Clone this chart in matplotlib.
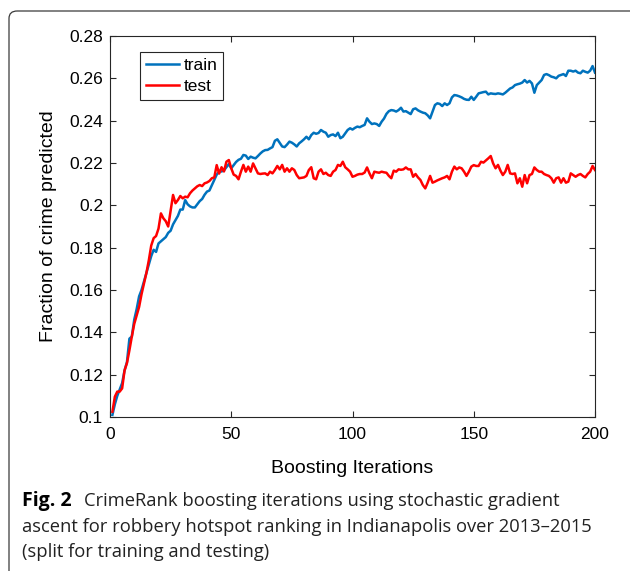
import matplotlib
matplotlib.use("Agg")
import matplotlib.pyplot as plt
from matplotlib.patches import FancyBboxPatch
import numpy as np

iterations = np.arange(1, 201)

train = [
    0.101, 0.106, 0.110, 0.113, 0.116, 0.122, 0.126, 0.137, 0.138, 0.146,
    0.151, 0.157, 0.160, 0.164, 0.168, 0.172, 0.176, 0.179, 0.178, 0.182,
    0.183, 0.184, 0.185, 0.187, 0.188, 0.191, 0.193, 0.195, 0.198, 0.198,
    0.2025, 0.2005, 0.1995, 0.199, 0.199, 0.2005, 0.202, 0.203, 0.205, 0.2065,
    0.207, 0.2095, 0.212, 0.2145, 0.216, 0.216, 0.2165, 0.218, 0.2195, 0.2175,
    0.219, 0.2205, 0.2215, 0.222, 0.2238, 0.2235, 0.2219, 0.223, 0.2225, 0.2222,
    0.2233, 0.2245, 0.2255, 0.2261, 0.2262, 0.2269, 0.2275, 0.2305, 0.2312, 0.2295,
    0.2278, 0.2275, 0.2287, 0.2301, 0.2296, 0.2288, 0.2278, 0.2293, 0.2302, 0.2312,
    0.2324, 0.2312, 0.2332, 0.2343, 0.2338, 0.2342, 0.2356, 0.2348, 0.2343, 0.2324,
    0.2332, 0.2335, 0.2327, 0.2343, 0.2317, 0.2324, 0.234, 0.2356, 0.2364, 0.2358,
    0.2366, 0.2372, 0.2369, 0.2375, 0.238, 0.2411, 0.2395, 0.2384, 0.2387, 0.2384,
    0.2375, 0.2395, 0.241, 0.2432, 0.2445, 0.245, 0.2448, 0.2443, 0.245, 0.2461,
    0.2443, 0.2445, 0.2438, 0.2431, 0.2454, 0.2458, 0.2449, 0.2443, 0.2438, 0.2435,
    0.2425, 0.2411, 0.2443, 0.2474, 0.2482, 0.2479, 0.2469, 0.2482, 0.2474, 0.2482,
    0.251, 0.2521, 0.2519, 0.2515, 0.251, 0.2503, 0.2499, 0.2498, 0.2513, 0.2498,
    0.2513, 0.2529, 0.2532, 0.2535, 0.2537, 0.2524, 0.2529, 0.2527, 0.2526, 0.2529,
    0.2527, 0.2524, 0.2532, 0.2542, 0.2552, 0.2557, 0.2568, 0.2572, 0.2575, 0.258,
    0.2592, 0.258, 0.2588, 0.2576, 0.2532, 0.2568, 0.258, 0.2592, 0.2616, 0.262,
    0.2615, 0.2608, 0.2605, 0.26, 0.2612, 0.2616, 0.262, 0.2611, 0.2636, 0.2636,
    0.2632, 0.2636, 0.2627, 0.2624, 0.2636, 0.2631, 0.2627, 0.2636, 0.2658, 0.2627,
]

test = [
    0.1025, 0.1096, 0.112, 0.112, 0.1135, 0.122, 0.1255, 0.1315, 0.138, 0.144,
    0.148, 0.152, 0.158, 0.163, 0.168, 0.174, 0.181, 0.1845, 0.1855, 0.189,
    0.1962, 0.1939, 0.1925, 0.190, 0.1975, 0.2049, 0.201, 0.2025, 0.2044, 0.2033,
    0.2041, 0.2038, 0.2057, 0.207, 0.208, 0.209, 0.2096, 0.2091, 0.2104, 0.2108,
    0.2115, 0.2128, 0.2132, 0.219, 0.215, 0.218, 0.216, 0.2206, 0.2214, 0.2175,
    0.2145, 0.2139, 0.2123, 0.2159, 0.2191, 0.2159, 0.2183, 0.2159, 0.2198, 0.2175,
    0.2151, 0.2148, 0.215, 0.2151, 0.2143, 0.2159, 0.2151, 0.2167, 0.2186, 0.217,
    0.2191, 0.2159, 0.2175, 0.2159, 0.2175, 0.2167, 0.2143, 0.2128, 0.213, 0.2132,
    0.2139, 0.2167, 0.218, 0.2128, 0.2123, 0.2159, 0.217, 0.2148, 0.2154, 0.2143,
    0.2139, 0.2159, 0.2167, 0.2191, 0.2186, 0.2206, 0.218, 0.217, 0.2159, 0.2135,
    0.2139, 0.2145, 0.2148, 0.2148, 0.2155, 0.2179, 0.2151, 0.2128, 0.2159, 0.2156,
    0.2154, 0.2159, 0.2156, 0.2154, 0.2139, 0.2128, 0.2164, 0.2159, 0.217, 0.2168,
    0.217, 0.2179, 0.217, 0.217, 0.2135, 0.2148, 0.2132, 0.212, 0.2096, 0.208,
    0.2107, 0.2139, 0.2107, 0.2112, 0.2118, 0.2123, 0.2128, 0.2132, 0.2139, 0.2123,
    0.2159, 0.2183, 0.217, 0.2179, 0.2175, 0.2159, 0.2139, 0.2159, 0.2183, 0.219,
    0.2186, 0.2186, 0.2206, 0.2202, 0.2212, 0.2222, 0.2233, 0.2198, 0.2175, 0.2191,
    0.2164, 0.2143, 0.2159, 0.2191, 0.2151, 0.2148, 0.2151, 0.2104, 0.2128, 0.2088,
    0.2143, 0.2104, 0.2143, 0.2148, 0.2179, 0.2167, 0.2159, 0.2159, 0.2148, 0.2143,
    0.2139, 0.2128, 0.2107, 0.2128, 0.2132, 0.2107, 0.2128, 0.2107, 0.2112, 0.2151,
    0.2143, 0.2135, 0.2143, 0.2148, 0.2139, 0.2132, 0.2148, 0.2159, 0.2186, 0.2167,
]

xticks = [0, 50, 100, 150, 200]
yticks = [0.1, 0.12, 0.14, 0.16, 0.18, 0.2, 0.22, 0.24, 0.26, 0.28]
ytick_labels = ['0.1', '0.12', '0.14', '0.16', '0.18', '0.2', '0.22', '0.24', '0.26', '0.28']

plt.rcParams['font.family'] = ['Liberation Sans', 'DejaVu Sans']

W, H = 630, 571
fig = plt.figure(figsize=(W / 100, H / 100), dpi=100)

# rounded frame around the whole figure (only top and left edges show)
frame = FancyBboxPatch((9 / W, 1 - 580 / H), 630 / W, 569 / H,
                       boxstyle="round,pad=0,rounding_size=0.013",
                       transform=fig.transFigure, fill=False,
                       edgecolor='#3a3a3a', linewidth=0.9, clip_on=False)
fig.patches.append(frame)

ax = fig.add_axes([110 / W, 1 - 417 / H, 485 / W, 381 / H])
ax.plot(iterations, train, color='#0072BD', linewidth=1.8, label='train')
ax.plot(iterations, test, color='#FF0000', linewidth=1.8, label='test')

ax.set_xlim(0, 200)
ax.set_ylim(0.1, 0.28)
ax.set_xticks(xticks)
ax.set_yticks(yticks)
ax.set_yticklabels(ytick_labels)
ax.tick_params(direction='in', length=4, width=0.8, color='#262626',
               labelsize=12.5, top=True, right=True)
ax.tick_params(axis='x', pad=7)
ax.tick_params(axis='y', pad=5)
for s in ax.spines.values():
    s.set_color('#262626')
    s.set_linewidth(0.8)

ax.set_xlabel('Boosting Iterations', fontsize=14, labelpad=13)
ax.set_ylabel('Fraction of crime predicted', fontsize=14, labelpad=9)

leg = ax.legend(loc='upper left', bbox_to_anchor=(0.062, 0.958), borderaxespad=0,
                fontsize=12.5, handlelength=1.9, handletextpad=0.25,
                labelspacing=0.3, borderpad=0.35, fancybox=False, framealpha=1)
leg.get_frame().set_edgecolor('#262626')
leg.get_frame().set_linewidth(0.8)

# caption
cap_font = ['Open Sans', 'DejaVu Sans']
fig.text(22 / W, 1 - 506 / H, 'Fig. 2', fontsize=14, fontweight='bold',
         family=cap_font, va='baseline')
fig.text(560 / W, 1 - 506 / H, 'CrimeRank boosting iterations using stochastic gradient',
         fontsize=13.2, family=cap_font, va='baseline', ha='right', color='#222222')
fig.text(22 / W, 1 - 532 / H, 'ascent for robbery hotspot ranking in Indianapolis over 2013\u20132015',
         fontsize=13.2, family=cap_font, va='baseline', color='#222222')
fig.text(22 / W, 1 - 557 / H, '(split for training and testing)',
         fontsize=13.2, family=cap_font, va='baseline', color='#222222')

fig.savefig('out.png', dpi=100)
